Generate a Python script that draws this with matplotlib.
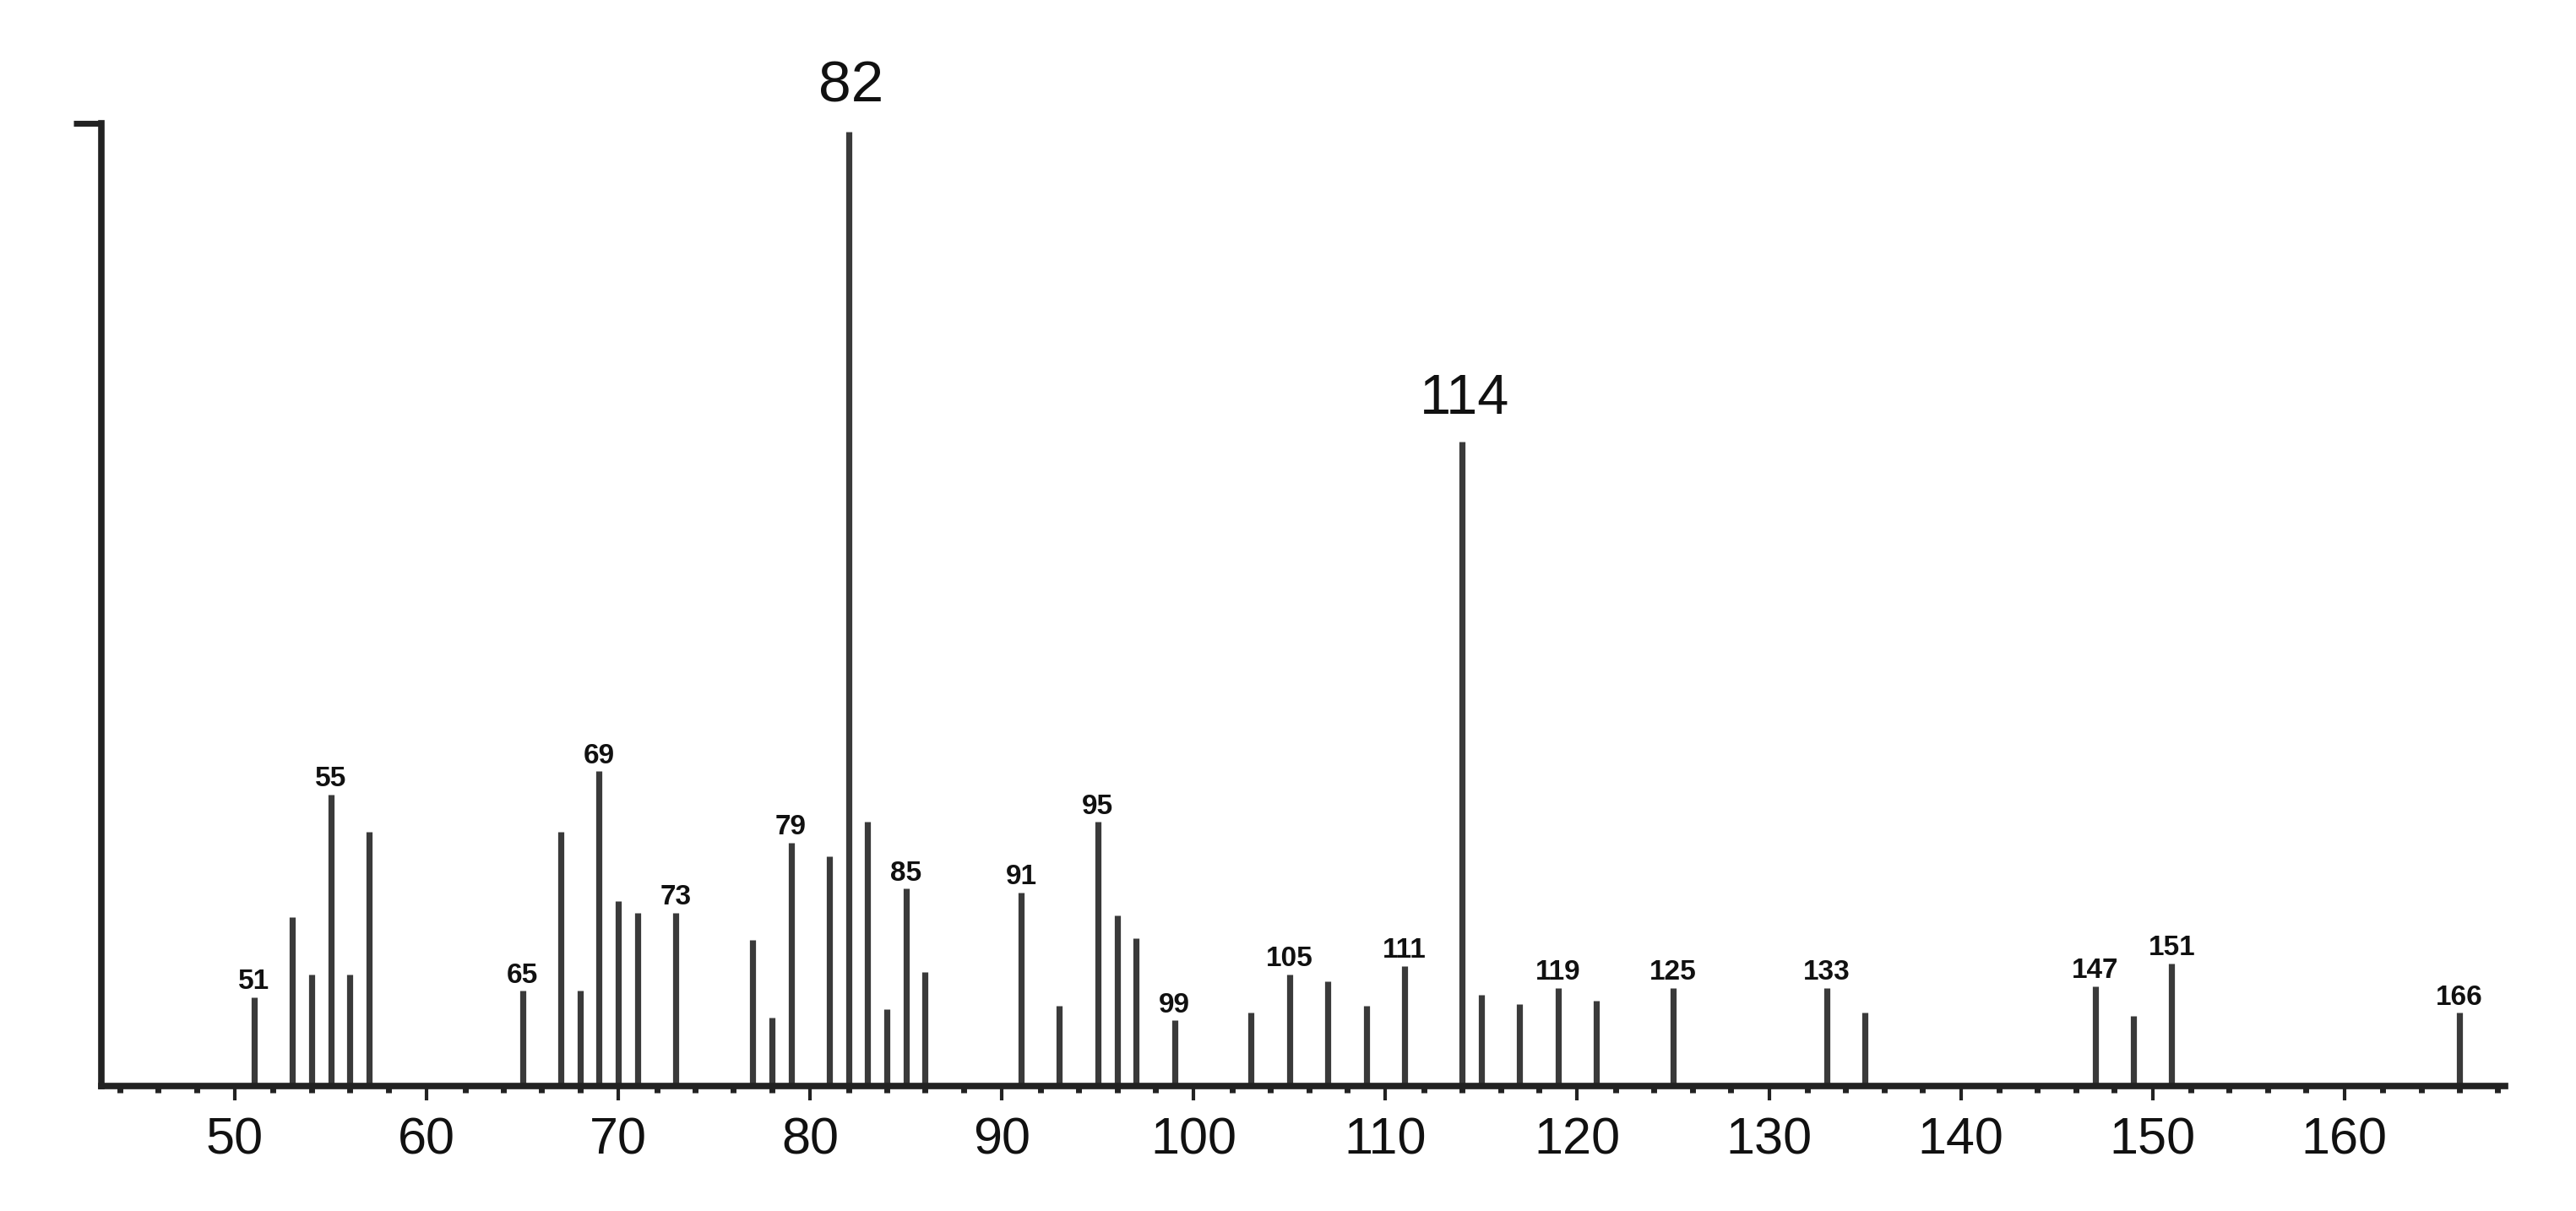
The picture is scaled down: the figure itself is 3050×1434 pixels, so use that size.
import matplotlib
matplotlib.use("Agg")
import matplotlib.pyplot as plt
from matplotlib.ticker import MultipleLocator

# m/z values and relative intensities (%)
mz = [51, 53, 54, 55, 56, 57, 65, 67, 68, 69, 70, 71, 73, 77, 78, 79, 81, 82,
      83, 84, 85, 86, 91, 93, 95, 96, 97, 99, 103, 105, 107, 109, 111, 114,
      115, 117, 119, 121, 125, 133, 135, 147, 149, 151, 166]
intensity = [9.3, 17.7, 11.7, 30.6, 11.7, 26.7, 10.0, 26.7, 10.0, 33.0, 19.4,
             18.2, 18.2, 15.3, 7.2, 25.5, 24.1, 100.0, 27.7, 8.1, 20.7, 12.0,
             20.3, 8.4, 27.7, 17.9, 15.5, 6.9, 7.7, 11.7, 11.0, 8.4, 12.6, 67.6,
             9.6, 8.6, 10.3, 9.0, 10.3, 10.3, 7.7, 10.5, 7.4, 12.9, 7.7]

small_labels = [51, 55, 65, 69, 73, 79, 85, 91, 95, 99, 105, 111, 119, 125,
                133, 147, 151, 166]
big_labels = [82, 114]
x_ticks = [50, 60, 70, 80, 90, 100, 110, 120, 130, 140, 150, 160]

narrow = ['Liberation Sans Narrow', 'Liberation Sans', 'DejaVu Sans']

fig = plt.figure(figsize=(30.5, 14.34), dpi=100)
ax = fig.add_axes([0.0395, 0.103, 0.9331, 0.795])

ax.vlines(mz, 0, intensity, colors='#3a3a3a', linewidth=5.2)

lookup = dict(zip(mz, intensity))
for m in small_labels:
    ax.annotate(str(m), (m, lookup[m]), xytext=(0, 2), textcoords='offset points',
                ha='center', va='bottom', fontsize=24, fontweight='bold',
                family=narrow, color='#111111')
ax.annotate('82', (82, lookup[82]), xytext=(2, 16), textcoords='offset points',
            ha='center', va='bottom', fontsize=50, family=narrow, color='#111111')
ax.annotate('114', (114, lookup[114]), xytext=(2, 13), textcoords='offset points',
            ha='center', va='bottom', fontsize=48,
            family=['Liberation Sans', 'DejaVu Sans'], color='#111111')

ax.set_xlim(43.06, 168.4)
ax.set_ylim(0, 100.9)

ax.set_xticks(x_ticks)
ax.set_xticklabels([str(t) for t in x_ticks], fontsize=44, family=narrow,
                   color='#111111')
ax.xaxis.set_minor_locator(MultipleLocator(2))
ax.tick_params(axis='x', which='major', direction='out', length=12, width=3,
               pad=14, color='#222222')
ax.tick_params(axis='x', which='minor', direction='out', length=6, width=5,
               color='#222222')

ax.set_yticks([100.9])
ax.set_yticklabels([''])
ax.tick_params(axis='y', which='major', direction='out', length=24, width=5,
               color='#222222')

for s in ['top', 'right']:
    ax.spines[s].set_visible(False)
for s in ['left', 'bottom']:
    ax.spines[s].set_linewidth(5.5)
    ax.spines[s].set_color('#222222')

fig.savefig('out.png', dpi=100, facecolor='white')
